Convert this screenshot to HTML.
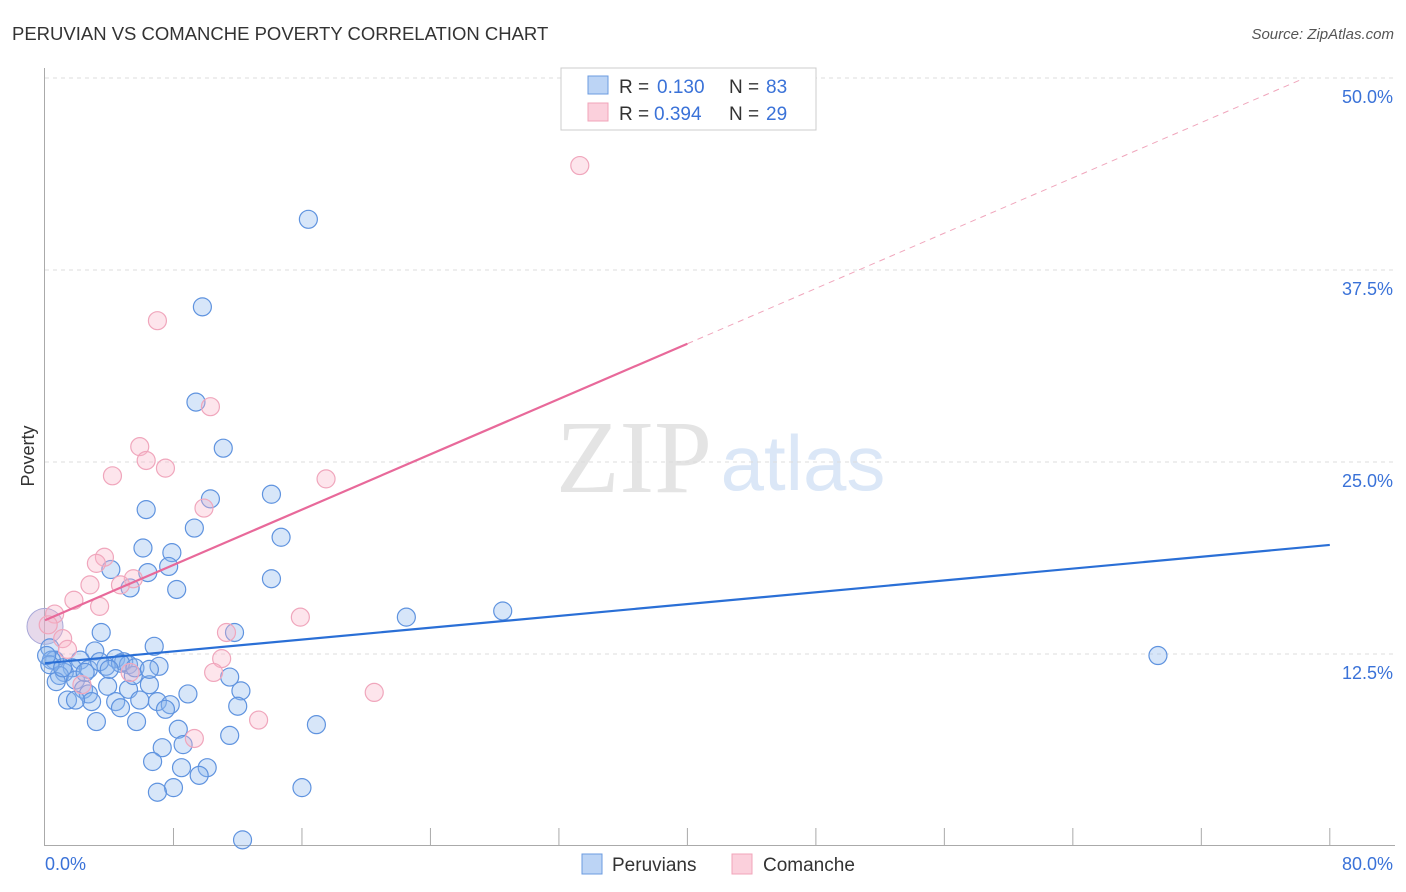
<!DOCTYPE html>
<html><head><meta charset="utf-8"><style>
body{margin:0;background:#fff;font-family:"Liberation Sans",sans-serif;}
svg{display:block}
</style></head><body>
<svg id="chart" width="1406" height="892">
<text x="12" y="40" font-size="18.5" fill="#333">PERUVIAN VS COMANCHE POVERTY CORRELATION CHART</text>
<text x="1394" y="39" font-size="15" font-style="italic" fill="#555" text-anchor="end">Source: ZipAtlas.com</text>
<g>
<text x="634" y="492" font-size="104" font-family="Liberation Serif,serif" fill="#e4e4e4" text-anchor="middle">ZIP</text>
<text x="803" y="490" font-size="78" fill="#dbe7f7" text-anchor="middle">atlas</text>
</g>
<g id="grid"></g>
<g id="axes"></g>
<g id="points"></g>
<g id="trends"></g>
<text transform="translate(34,456) rotate(-90)" font-size="18" fill="#333" text-anchor="middle">Poverty</text>
<g>
<rect x="561" y="68" width="255" height="62" fill="#fff" stroke="#ccc"/>
<rect x="588" y="76" width="20" height="18" fill="#bcd4f5" stroke="#6b9be0"/>
<rect x="588" y="103" width="20" height="18" fill="#fbd0dc" stroke="#f2a4ba"/>
<text x="619" y="93" font-size="19" fill="#333">R =</text>
<text x="657" y="93" font-size="19" fill="#3a72d8">0.130</text>
<text x="729" y="93" font-size="19" fill="#333">N =</text>
<text x="766" y="93" font-size="19" fill="#3a72d8">83</text>
<text x="619" y="120" font-size="19" fill="#333">R =</text>
<text x="654" y="120" font-size="19" fill="#3a72d8">0.394</text>
<text x="729" y="120" font-size="19" fill="#333">N =</text>
<text x="766" y="120" font-size="19" fill="#3a72d8">29</text>
</g>
<g>
<rect x="582" y="854" width="20" height="20" fill="#bcd4f5" stroke="#6b9be0"/>
<text x="612" y="871" font-size="19" fill="#333">Peruvians</text>
<rect x="732" y="854" width="20" height="20" fill="#fbd0dc" stroke="#f2a4ba"/>
<text x="763" y="871" font-size="19" fill="#333">Comanche</text>
</g>
</svg>
<script>
const peruX=[16.4,9.8,9.4,11.1,10.3,14.1,6.3,9.3,14.7,6.1,7.9,4.1,7.7,6.4,5.3,8.2,14.1,22.5,28.5,69.3,3.5,6.8,11.8,0.3,0.6,3.1,2.2,4.4,4.9,3.8,5.2,7.1,2.7,1.7,1.2,0.4,0.9,0.7,1.9,2.4,3.9,5.2,2.7,6.5,8.9,12.2,11.5,5.5,4.4,2.9,1.4,1.9,5.9,7.0,7.8,7.5,12.0,4.7,3.2,5.7,8.3,16.9,8.6,7.3,11.5,6.7,8.5,10.1,9.6,8.0,7.0,16.0,12.3,0.3,0.1,3.4,4.7,5.6,1.1,2.5,4.0,6.5];
const peruY=[40.8,35.1,28.9,25.9,22.6,22.9,21.9,20.7,20.1,19.4,19.1,18.0,18.2,17.8,16.8,16.7,17.4,14.9,15.3,12.4,13.9,13.0,13.9,12.9,12.1,12.7,12.1,12.2,12.0,11.7,11.8,11.7,11.5,11.6,11.3,12.1,11.1,10.7,10.8,10.2,10.4,10.2,9.9,10.5,9.9,10.1,11.0,11.1,9.4,9.4,9.5,9.5,9.5,9.4,9.2,8.9,9.1,9.0,8.1,8.1,7.6,7.9,6.6,6.4,7.2,5.5,5.1,5.1,4.6,3.8,3.5,3.8,0.4,11.8,12.4,12.0,11.9,11.6,11.6,11.3,11.5,11.5];
const comX=[33.3,7.0,10.3,5.9,6.3,7.5,4.2,17.5,9.9,3.7,3.2,5.5,4.7,2.8,1.8,3.4,0.6,15.9,11.3,1.1,1.4,11.0,10.5,5.3,2.3,20.5,13.3,9.3,0.2];
const comY=[44.3,34.2,28.6,26.0,25.1,24.6,24.1,23.9,22.0,18.8,18.4,17.4,17.0,17.0,16.0,15.6,15.1,14.9,13.9,13.5,12.8,12.2,11.3,11.3,10.5,10.0,8.2,7.0,14.4];
const bigX=[0.0];
const bigY=[14.3];
const peruTrend=[11.9,19.6]; // y at x=0 and x=80
const comTrend=[14.7,0.45];  // intercept, slope
const comSolidEnd=[40];
const comDashEnd=[78.1];
const yTicks=[12.5,25.0,37.5,50.0];
const yTickLabels=["12.5%","25.0%","37.5%","50.0%"];
const xTickLabels=["0.0%","80.0%"];
const NS="http://www.w3.org/2000/svg";
const sx=v=>45+v*16.06, sy=v=>846-v*15.36;
function mk(tag,attrs,parent){const e=document.createElementNS(NS,tag);for(const k in attrs)e.setAttribute(k,attrs[k]);document.getElementById(parent).appendChild(e);return e;}
yTicks.forEach((t,i)=>{
 const l=mk('line',{x1:45,x2:1395,y1:sy(t),y2:sy(t),stroke:'#ddd','stroke-dasharray':'4,4'},'grid');
 
 
 const tx=mk('text',{x:1393,y:sy(t)+25,'font-size':18,fill:'#3a72d8','text-anchor':'end'},'grid');
 tx.textContent=yTickLabels[i];
 
 
});
const ax=mk('line',{x1:44.5,x2:44.5,y1:68,y2:846,stroke:'#aaa'},'axes');


const bx=mk('line',{x1:44,x2:1395,y1:845.5,y2:845.5,stroke:'#aaa'},'axes');


for(let i=1;i<=10;i++){
 const t=mk('line',{x1:sx(i*8),x2:sx(i*8),y1:828,y2:846,stroke:'#aaa'},'axes');
 
 
}
const xl0=mk('text',{x:45,y:870,'font-size':18,fill:'#3a72d8'},'axes');xl0.textContent=xTickLabels[0];


const xl1=mk('text',{x:1393,y:870,'font-size':18,fill:'#3a72d8','text-anchor':'end'},'axes');xl1.textContent=xTickLabels[1];


bigX.forEach((x,i)=>{
 const c=mk('circle',{cx:sx(x),cy:sy(bigY[i]),r:18,fill:'rgba(200,170,210,0.45)',stroke:'#a8a8d8','stroke-width':1},'points');
 
 
});
peruX.forEach((x,i)=>{
 const c=mk('circle',{cx:sx(x),cy:sy(peruY[i]),r:9,fill:'rgba(140,182,238,0.35)',stroke:'#5f93df','stroke-width':1.2},'points');
 
 
});
comX.forEach((x,i)=>{
 const c=mk('circle',{cx:sx(x),cy:sy(comY[i]),r:9,fill:'rgba(248,180,200,0.35)',stroke:'#f0a6bc','stroke-width':1.2},'points');
 
 
});
const pl=mk('line',{x1:sx(0),y1:sy(peruTrend[0]),x2:sx(80),y2:sy(peruTrend[1]),stroke:'#2a6fd6','stroke-width':2.2},'trends');


const cy=x=>comTrend[0]+comTrend[1]*x;
const cl=mk('line',{x1:sx(0),y1:sy(cy(0)),x2:sx(comSolidEnd[0]),y2:sy(cy(comSolidEnd[0])),stroke:'#e8699a','stroke-width':2.2},'trends');


const cd=mk('line',{x1:sx(comSolidEnd[0]),y1:sy(cy(comSolidEnd[0])),x2:sx(comDashEnd[0]),y2:sy(cy(comDashEnd[0])),stroke:'#f0a6bc','stroke-width':1,'stroke-dasharray':'6,5'},'trends');


</script>
</body></html>
